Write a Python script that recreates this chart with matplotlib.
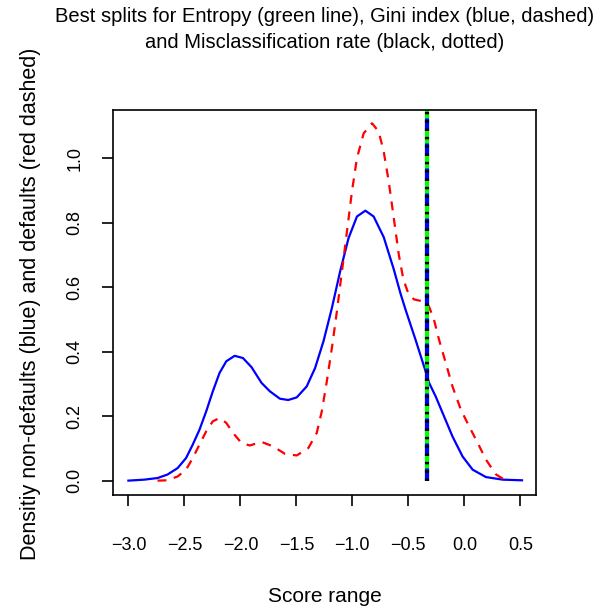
import numpy as np
import matplotlib.pyplot as plt

plt.rcParams['font.family'] = ['Liberation Sans', 'DejaVu Sans']

# density of non-defaults (blue, solid)
x_nd = [-3.0, -2.859, -2.740, -2.650, -2.560, -2.485, -2.425, -2.365, -2.305, -2.246,
        -2.186, -2.126, -2.051, -1.977, -1.901, -1.811, -1.737, -1.647, -1.573, -1.497,
        -1.408, -1.333, -1.258, -1.183, -1.109, -1.034, -0.959, -0.884, -0.810, -0.720,
        -0.630, -0.570, -0.525, -0.436, -0.346, -0.316, -0.256, -0.181, -0.106, -0.016,
        0.074, 0.193, 0.343, 0.515]
y_nd = [0.0, 0.003, 0.008, 0.019, 0.039, 0.070, 0.112, 0.158, 0.215, 0.277,
        0.334, 0.370, 0.387, 0.380, 0.352, 0.303, 0.277, 0.254, 0.250, 0.258,
        0.292, 0.349, 0.432, 0.535, 0.649, 0.752, 0.819, 0.837, 0.819, 0.755,
        0.655, 0.580, 0.530, 0.437, 0.339, 0.304, 0.261, 0.199, 0.137, 0.075,
        0.034, 0.011, 0.003, 0.001]

# density of defaults (red, dashed)
x_d = [-2.740, -2.650, -2.560, -2.485, -2.425, -2.365, -2.305, -2.246, -2.186, -2.126,
       -2.066, -1.991, -1.917, -1.811, -1.707, -1.602, -1.497, -1.393, -1.318, -1.273,
       -1.228, -1.183, -1.138, -1.093, -1.048, -1.004, -0.959, -0.899, -0.824, -0.765,
       -0.720, -0.675, -0.630, -0.585, -0.545, -0.500, -0.450, -0.375, -0.316, -0.271,
       -0.226, -0.166, -0.106, -0.031, 0.043, 0.119, 0.193, 0.283, 0.357]
y_d = [0.0, 0.001, 0.013, 0.034, 0.070, 0.112, 0.153, 0.184, 0.194, 0.179,
       0.148, 0.117, 0.109, 0.120, 0.106, 0.083, 0.078, 0.101, 0.148, 0.215,
       0.308, 0.411, 0.525, 0.649, 0.773, 0.896, 1.0, 1.077, 1.108, 1.082,
       1.020, 0.927, 0.814, 0.700, 0.625, 0.580, 0.562, 0.556, 0.540, 0.499,
       0.437, 0.365, 0.292, 0.220, 0.168, 0.117, 0.065, 0.019, 0.003]

split = -0.335

fig = plt.figure(figsize=(6.08, 6.08), dpi=100)
ax = fig.add_axes([0.1854, 0.186, 0.6962, 0.633])

ax.plot(x_nd, y_nd, color='blue', lw=1.6)
ax.plot(x_d, y_d, color='red', lw=1.6, ls=(0, (4, 3.5)))

ytop = 1.15
ax.plot([split, split], [0, ytop], color='#00ff00', lw=3, solid_capstyle='butt')
ax.plot([split, split], [0, ytop], color='blue', lw=3, ls=(0, (3, 3)))
ax.plot([split, split], [0, ytop], color='black', lw=3, ls=(0, (0.6, 1.4)), dash_capstyle='butt')

ax.set_xlim(-3.14, 0.64)
ax.set_ylim(-0.0443, 1.149)
ax.set_xticks(np.arange(-3.0, 0.51, 0.5))
ax.set_xticklabels(['\u22123.0', '\u22122.5', '\u22122.0', '\u22121.5', '\u22121.0', '\u22120.5', '0.0', '0.5'])
ax.set_yticks([0, 0.2, 0.4, 0.6, 0.8, 1.0])
ax.set_yticklabels(['0.0', '0.2', '0.4', '0.6', '0.8', '1.0'], rotation=90, va='center')
ax.tick_params(axis='x', length=8, width=1.2, pad=22, labelsize=13)
ax.tick_params(axis='y', length=8, width=1.2, pad=13, labelsize=13)
for s in ax.spines.values():
    s.set_linewidth(1.2)

fig.text(0.5336, 1 - 17 / 608, 'Best splits for Entropy (green line), Gini index (blue, dashed)',
         ha='center', va='center', fontsize=14.5)
fig.text(0.5336, 1 - 42 / 608, 'and Misclassification rate (black, dotted)',
         ha='center', va='center', fontsize=14.5)
fig.text(0.5336, 1 - 597 / 608, 'Score range', ha='center', va='center', fontsize=15)
fig.text(31 / 608, 0.5, 'Densitiy non-defaults (blue) and defaults (red dashed)',
         ha='center', va='center', rotation=90, fontsize=15.5)

plt.savefig('out.png', dpi=100)
